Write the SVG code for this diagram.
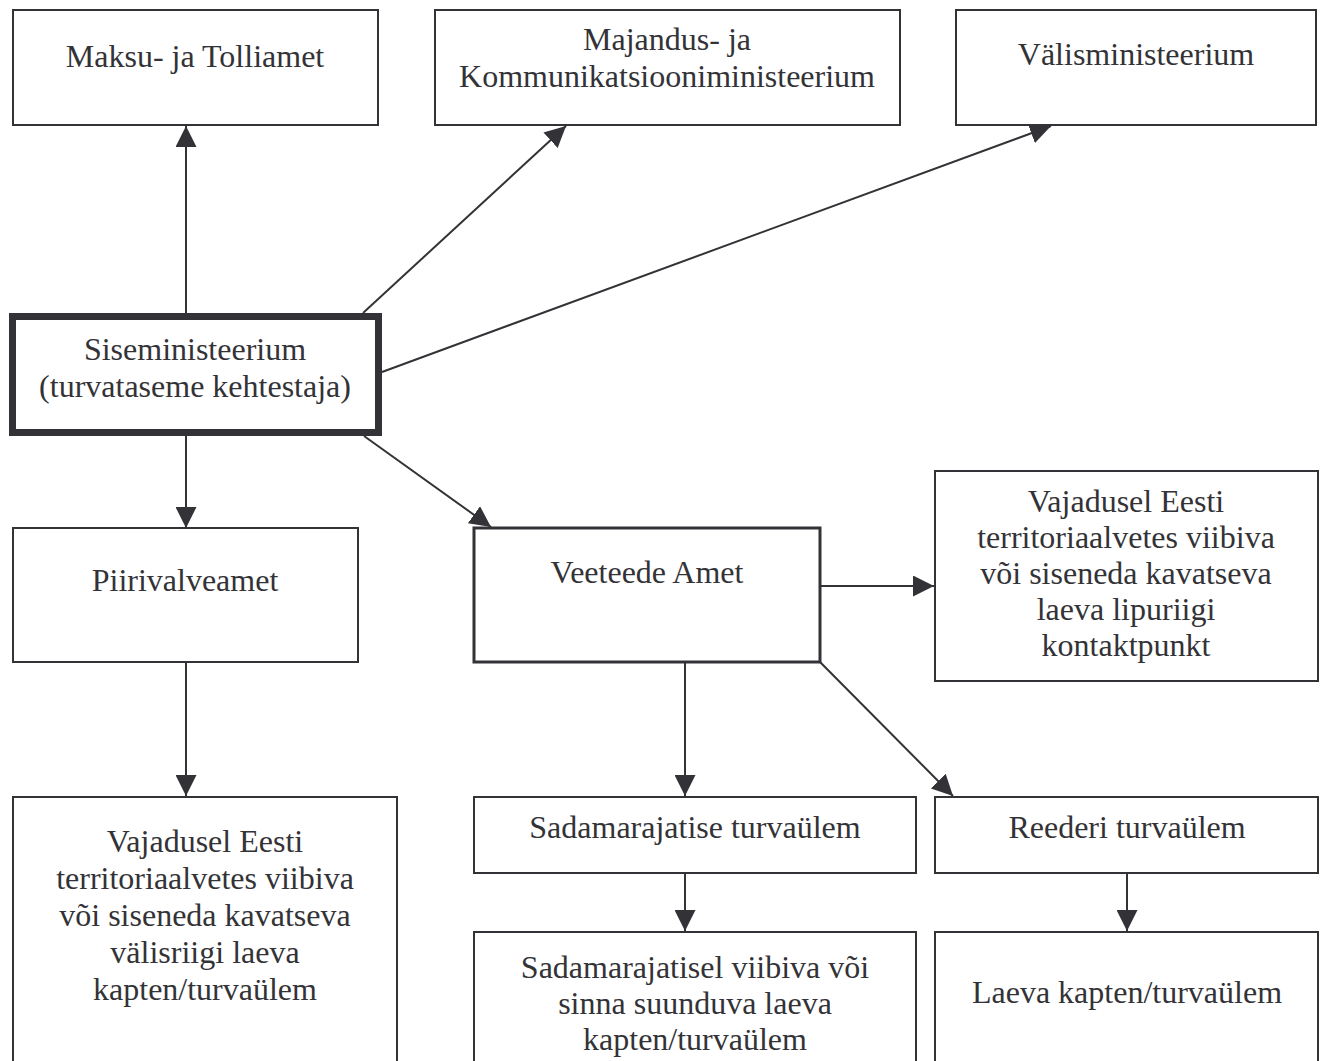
<svg xmlns="http://www.w3.org/2000/svg" width="1327" height="1061" viewBox="0 0 1327 1061">
<style>
.box{fill:#fff;stroke:#333337;stroke-width:2}
.t{font-family:"Liberation Serif","Times New Roman",serif;font-size:32px;fill:#333337;text-anchor:middle}
.c{stroke:#333337;stroke-width:2;fill:none;marker-end:url(#ah)}
</style>
<defs>
<marker id="ah" markerUnits="userSpaceOnUse" markerWidth="21" markerHeight="21" viewBox="0 0 21 21" refX="21" refY="10.5" orient="auto">
<path d="M0,0 L21,10.5 L0,21 z" fill="#333337"/>
</marker>
</defs>
<rect width="1327" height="1061" fill="#fff"/>
<g id="connectors">
<line class="c" x1="186" y1="313" x2="186" y2="126"/>
<line class="c" x1="363" y1="313" x2="566" y2="126"/>
<line class="c" x1="382" y1="372" x2="1051" y2="126"/>
<line class="c" x1="186" y1="436" x2="186" y2="528"/>
<line class="c" x1="364" y1="436" x2="491" y2="527"/>
<line class="c" x1="820" y1="586" x2="934" y2="586"/>
<line class="c" x1="685" y1="662" x2="685" y2="796"/>
<line class="c" x1="820" y1="662" x2="953" y2="796"/>
<line class="c" x1="186" y1="663" x2="186" y2="796"/>
<line class="c" x1="685" y1="873" x2="685" y2="931"/>
<line class="c" x1="1127" y1="873" x2="1127" y2="931"/>
</g>
<g id="maksu">
<rect class="box" x="13" y="10" width="365" height="115"/>
<text class="t" x="195" y="67">Maksu- ja Tolliamet</text>
</g>
<g id="majandus">
<rect class="box" x="435" y="10" width="465" height="115"/>
<text class="t" x="667" y="50">Majandus- ja</text>
<text class="t" x="667" y="87">Kommunikatsiooniministeerium</text>
</g>
<g id="valis">
<rect class="box" x="956" y="10" width="360" height="115"/>
<text class="t" x="1136" y="65">Välisministeerium</text>
</g>
<g id="sise">
<rect x="12.5" y="316.5" width="366" height="116" fill="#fff" stroke="#333337" stroke-width="7"/>
<text class="t" x="195" y="360">Siseministeerium</text>
<text class="t" x="195" y="397">(turvataseme kehtestaja)</text>
</g>
<g id="piiri">
<rect class="box" x="13" y="528" width="345" height="134"/>
<text class="t" x="185" y="591">Piirivalveamet</text>
</g>
<g id="veeteede">
<rect x="474" y="528" width="346" height="134" fill="#fff" stroke="#333337" stroke-width="3"/>
<text class="t" x="647" y="583">Veeteede Amet</text>
</g>
<g id="lipuriik">
<rect class="box" x="935" y="471" width="383" height="210"/>
<text class="t" x="1126" y="512">Vajadusel Eesti</text>
<text class="t" x="1126" y="548">territoriaalvetes viibiva</text>
<text class="t" x="1126" y="584">või siseneda kavatseva</text>
<text class="t" x="1126" y="620">laeva lipuriigi</text>
<text class="t" x="1126" y="656">kontaktpunkt</text>
</g>
<g id="valisriigi">
<rect class="box" x="13" y="797" width="384" height="280"/>
<text class="t" x="205" y="852">Vajadusel Eesti</text>
<text class="t" x="205" y="889">territoriaalvetes viibiva</text>
<text class="t" x="205" y="926">või siseneda kavatseva</text>
<text class="t" x="205" y="963">välisriigi laeva</text>
<text class="t" x="205" y="1000">kapten/turvaülem</text>
</g>
<g id="sadamarajatise">
<rect class="box" x="474" y="797" width="442" height="76"/>
<text class="t" x="695" y="838">Sadamarajatise turvaülem</text>
</g>
<g id="reederi">
<rect class="box" x="935" y="797" width="383" height="76"/>
<text class="t" x="1127" y="838">Reederi turvaülem</text>
</g>
<g id="sadamarajatisel">
<rect class="box" x="474" y="932" width="442" height="150"/>
<text class="t" x="695" y="978">Sadamarajatisel viibiva või</text>
<text class="t" x="695" y="1014">sinna suunduva laeva</text>
<text class="t" x="695" y="1050">kapten/turvaülem</text>
</g>
<g id="laeva">
<rect class="box" x="935" y="932" width="383" height="150"/>
<text class="t" x="1127" y="1003">Laeva kapten/turvaülem</text>
</g>
</svg>
